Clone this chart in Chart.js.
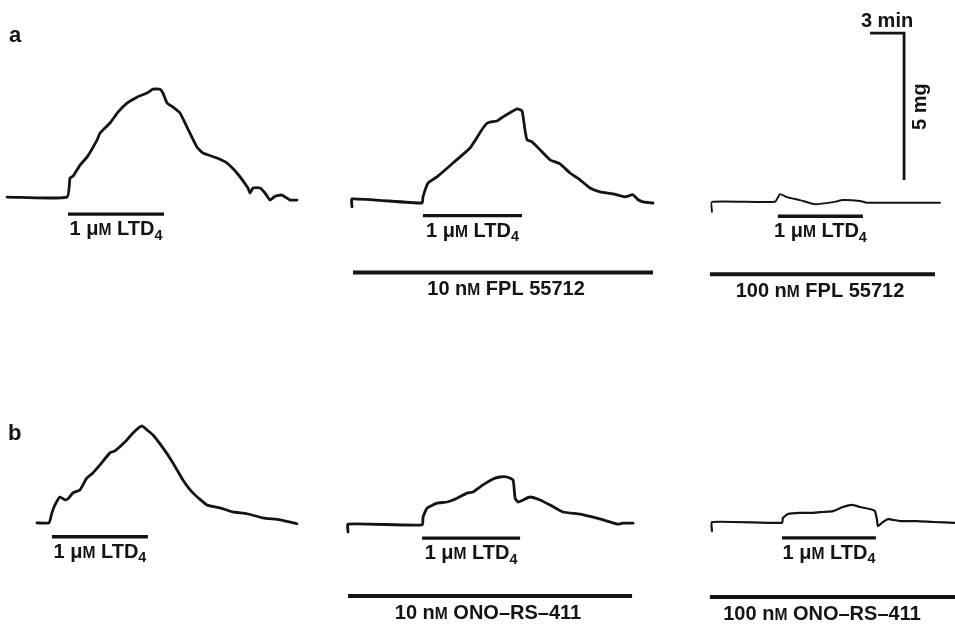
<!DOCTYPE html>
<html>
<head>
<meta charset="utf-8">
<script src="https://cdn.jsdelivr.net/npm/chart.js@4.4.1/dist/chart.umd.min.js"></script>
<style>
html,body{margin:0;padding:0;background:#fff;}
#wrap{width:955px;height:624px;position:relative;}
</style>
</head>
<body>
<div id="wrap"><canvas id="c" width="955" height="624"></canvas></div>
<script>
// ===== DATA (time in min from start of each recording, tension in mg above baseline) =====
const a1Time = [0,5.29,5.56,5.82,6.44,7.06,7.94,8.21,9.09,9.79,10.59,11.47,12.35,12.88,13.50,13.76,14.12,14.65,15.26,15.88,16.76,17.29,18.53,19.41,20.29,21.26,21.44,21.71,22.32,22.76,23.21,23.65,24.26,24.97,25.59];
const a1Mg   = [0,0,0.65,0.71,1.09,1.36,1.94,2.18,2.52,2.89,3.20,3.40,3.54,3.67,3.67,3.54,3.20,3.06,2.86,2.38,1.70,1.50,1.33,1.16,0.82,0.31,0.14,0.31,0.31,0.14,-0.10,0.03,0.07,-0.10,-0.10];

const a2Time = [0,0,6.18,6.26,6.71,7.5,8.91,10.41,11.56,12.0,12.79,13.32,13.94,14.56,15.0,15.26,15.44,15.88,16.59,17.47,18.35,19.24,20.12,21.0,21.88,23.03,24.09,24.79,25.24,25.68,26.56];
const a2Mg   = [-0.27,0,-0.14,0.07,0.54,0.75,1.22,1.73,2.41,2.59,2.65,2.79,2.93,3.06,2.99,2.35,2.01,1.94,1.67,1.33,1.19,0.88,0.65,0.37,0.24,0.17,0.07,0.14,-0.03,-0.10,-0.14];

const a3Time = [0,0,5.56,6.0,6.62,7.76,9.09,10.68,11.56,13.06,13.68,20.12];
const a3Mg   = [-0.34,0,0,0.26,0.16,0.06,-0.08,-0.01,0.06,0.03,-0.03,-0.03];

const b1Time = [0,1.06,1.32,1.59,2.03,2.47,2.74,3.18,3.79,4.41,4.94,5.56,6.44,6.88,7.94,8.47,9.26,9.71,10.24,11.12,12.0,12.88,13.76,15.0,16.15,17.29,18.53,19.94,21.44,22.94];
const b1Mg   = [0,0,0.34,0.61,0.88,0.78,0.82,1.02,1.12,1.53,1.70,1.97,2.38,2.45,2.82,3.06,3.30,3.16,2.99,2.55,2.04,1.46,1.02,0.61,0.51,0.37,0.31,0.17,0.10,-0.03];

const b2Time = [0,0,6.53,6.62,6.97,7.85,8.74,9.62,10.5,11.03,11.91,12.79,13.41,14.03,14.56,14.74,15.0,15.44,16.06,16.94,17.82,18.97,20.47,21.97,22.85,23.74,24.26,25.15];
const b2Mg   = [-0.27,0,-0.03,0.24,0.54,0.71,0.75,0.88,1.05,1.09,1.33,1.53,1.60,1.60,1.50,0.88,0.75,0.82,0.92,0.82,0.65,0.41,0.34,0.20,0.10,0,0.03,0.03];

const b3Time = [0,0,6.18,6.26,6.71,7.76,8.91,9.79,10.68,11.56,12.35,13.06,13.94,14.38,14.56,14.65,15.0,15.53,16.59,18.09,19.5,21.44];
const b3Mg   = [-0.31,0,-0.03,0.14,0.27,0.31,0.31,0.34,0.37,0.51,0.58,0.51,0.44,0.37,0.07,-0.14,-0.03,0.10,0.03,0.03,0,-0.03];

// LTD4 application periods (min from start of recording), panels a1,a2,a3,b1,b2,b3
const ltdOn  = [5.38, 6.26, 5.82, 1.32, 6.53, 6.18];
const ltdOff = [13.85, 15.0, 13.32, 9.79, 15.18, 14.47];
const ltdLabel = '1 μ{M} LTD_{4}';

// antagonist periods for panels a2,a3,b2,b3
const drugOn    = [0.09, -0.18, 0, -0.18];
const drugOffT  = [26.56, 19.68, 25.06, 21.9];
const drugNames = ['10 n{M} FPL 55712', '100 n{M} FPL 55712', '10 n{M} ONO–RS–411', '100 n{M} ONO–RS–411'];

// calibration bars
const calMin = 3, calMg = 5;
const calLabels = ['3 min', '5 mg'];
const panelLetters = ['a', 'b'];

// ===== LAYOUT (page extent in min / mg, placement of each recording) =====
const X_MAX = 955 / (34 / 3);   // minutes across the page
const Y_MAX = 624 / 29.4;       // mg down the page
const layout = [
  {time:a1Time, mg:a1Mg, x0:0.62,  base:14.52, lw:2.8, ltdY:-0.58, drug:-1},
  {time:a2Time, mg:a2Mg, x0:31.06, base:14.46, lw:2.8, ltdY:-0.57, drug:0, drugY:-2.50, drugC:13.59},
  {time:a3Time, mg:a3Mg, x0:62.82, base:14.36, lw:1.9, ltdY:-0.49, drug:1, drugY:-2.46, drugC:9.53},
  {time:b1Time, mg:b1Mg, x0:3.26,  base:3.44,  lw:2.8, ltdY:-0.47, drug:-1},
  {time:b2Time, mg:b2Mg, x0:30.71, base:3.40,  lw:2.8, ltdY:-0.48, drug:2, drugY:-2.45, drugC:12.35},
  {time:b3Time, mg:b3Mg, x0:62.82, base:3.47,  lw:2.2, ltdY:-0.54, drug:3, drugY:-2.55, drugC:9.71}
];
const calCorner = {x:79.77, y:20.10};
const INK = '#141414';
const FONT = '"Liberation Sans", Arial, sans-serif';
const FS = 20;

const datasets = [];
layout.forEach((p, i) => {
  datasets.push({
    data: p.time.map((t, k) => ({x: p.x0 + t, y: p.base + p.mg[k]})),
    borderColor: INK, borderWidth: p.lw, tension: 0.15, pointRadius: 0, showLine: true,
    borderJoinStyle: 'round', borderCapStyle: 'round'
  });
  datasets.push({
    data: [{x: p.x0 + ltdOn[i], y: p.base + p.ltdY}, {x: p.x0 + ltdOff[i], y: p.base + p.ltdY}],
    borderColor: INK, borderWidth: 3.4, pointRadius: 0, showLine: true, borderCapStyle: 'butt'
  });
  if (p.drug >= 0) {
    datasets.push({
      data: [{x: p.x0 + drugOn[p.drug], y: p.base + p.drugY}, {x: p.x0 + drugOffT[p.drug], y: p.base + p.drugY}],
      borderColor: INK, borderWidth: 4, pointRadius: 0, showLine: true, borderCapStyle: 'butt'
    });
  }
});
datasets.push({
  data: [{x: calCorner.x - calMin, y: calCorner.y}, {x: calCorner.x, y: calCorner.y}, {x: calCorner.x, y: calCorner.y - calMg}],
  borderColor: INK, borderWidth: 2.8, pointRadius: 0, showLine: true, borderCapStyle: 'butt', borderJoinStyle: 'miter'
});

function parseRich(str) {
  const re = /_\{([^}]*)\}|\{([^}]*)\}|([^{_]+)/g;
  const out = []; let m;
  while ((m = re.exec(str)) !== null) {
    if (m[1] !== undefined) out.push({t: m[1], k: 'sub'});
    else if (m[2] !== undefined) out.push({t: m[2], k: 'sc'});
    else out.push({t: m[3], k: 'n'});
  }
  return out;
}
function drawRich(ctx, str, cx, by, size, align) {
  const segs = parseRich(str);
  const spec = s => s.k === 'sub' ? {sz: size * 0.72, dy: size * 0.22}
                  : s.k === 'sc' ? {sz: size * 0.78, dy: 0} : {sz: size, dy: 0};
  let total = 0;
  segs.forEach(s => { const sp = spec(s); ctx.font = 'bold ' + sp.sz + 'px ' + FONT; s.w = ctx.measureText(s.t).width; total += s.w; });
  let x = align === 'left' ? cx : cx - total / 2;
  ctx.textAlign = 'left'; ctx.textBaseline = 'alphabetic';
  segs.forEach(s => { const sp = spec(s); ctx.font = 'bold ' + sp.sz + 'px ' + FONT; ctx.fillText(s.t, x, by + sp.dy); x += s.w; });
}

const textPlugin = {
  id: 'texts',
  afterDatasetsDraw(chart) {
    const ctx = chart.ctx, xs = chart.scales.x, ys = chart.scales.y;
    ctx.save();
    ctx.fillStyle = INK;
    layout.forEach((p, i) => {
      const cx = xs.getPixelForValue(p.x0 + (ltdOn[i] + ltdOff[i]) / 2);
      const by = ys.getPixelForValue(p.base + p.ltdY) + 21;
      drawRich(ctx, ltdLabel, cx, by, FS, 'center');
      if (p.drug >= 0) {
        const dx = xs.getPixelForValue(p.x0 + p.drugC);
        const dy = ys.getPixelForValue(p.base + p.drugY) + 23;
        drawRich(ctx, drugNames[p.drug], dx, dy, FS, 'center');
      }
    });
    // calibration labels
    const hx = xs.getPixelForValue(calCorner.x - calMin / 2);
    const hy = ys.getPixelForValue(calCorner.y);
    drawRich(ctx, calLabels[0], hx, hy - 6, FS, 'center');
    const vx = xs.getPixelForValue(calCorner.x);
    const vy = ys.getPixelForValue(calCorner.y - calMg / 2);
    ctx.save();
    ctx.translate(vx + 22, vy);
    ctx.rotate(-Math.PI / 2);
    drawRich(ctx, calLabels[1], 0, 0, FS, 'center');
    ctx.restore();
    // panel letters
    drawRich(ctx, panelLetters[0], 9, 42, 22, 'left');
    drawRich(ctx, panelLetters[1], 8, 440, 22, 'left');
    ctx.restore();
  }
};

new Chart(document.getElementById('c'), {
  type: 'scatter',
  data: {datasets},
  options: {
    responsive: false, animation: false, devicePixelRatio: 1,
    layout: {padding: 0},
    plugins: {legend: {display: false}, tooltip: {enabled: false}, title: {display: false}},
    scales: {
      x: {type: 'linear', display: false, min: 0, max: X_MAX},
      y: {type: 'linear', display: false, min: 0, max: Y_MAX}
    },
    elements: {point: {radius: 0}}
  },
  plugins: [textPlugin]
});
</script>
</body>
</html>
